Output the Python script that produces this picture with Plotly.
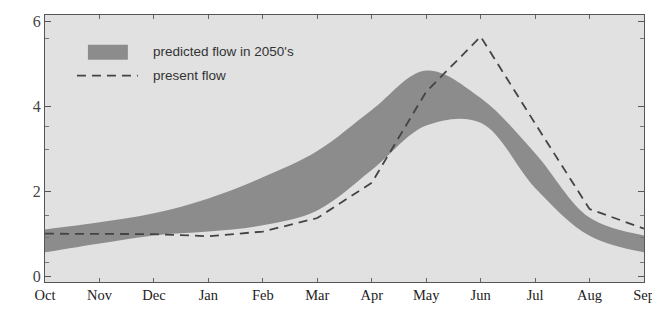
import plotly.graph_objects as go

months = ["Oct", "Nov", "Dec", "Jan", "Feb", "Mar", "Apr", "May", "Jun", "Jul", "Aug", "Sep"]
present_flow = [1.0, 1.0, 0.99, 0.94, 1.05, 1.37, 2.2, 4.35, 5.65, 3.6, 1.58, 1.12]
predicted_upper = [1.1, 1.27, 1.48, 1.83, 2.33, 2.95, 3.92, 4.85, 4.2, 2.9, 1.38, 0.96]
predicted_lower = [0.56, 0.77, 0.96, 1.05, 1.2, 1.55, 2.5, 3.55, 3.62, 2.08, 0.95, 0.56]
y_ticks = [0, 2, 4, 6]
y_minor_ticks = [0.33, 0.9, 1.43, 2.98, 3.54, 5.6]

x = list(range(len(months)))
band_color = "#8c8c8c"
line_color = "#444444"
dash = "9px,6px"

fig = go.Figure()
fig.add_trace(go.Scatter(x=x, y=predicted_lower, mode="lines", line=dict(width=0, shape="spline"),
                         showlegend=False, hoverinfo="skip"))
fig.add_trace(go.Scatter(x=x, y=predicted_upper, mode="lines", line=dict(width=0, shape="spline"),
                         fill="tonexty", fillcolor=band_color, name="predicted flow in 2050's"))
fig.add_trace(go.Scatter(x=x, y=present_flow, mode="lines",
                         line=dict(color=line_color, width=1.8, dash=dash),
                         name="present flow"))

# page body has an 8px margin, so the figure is 8px smaller and margins are shifted
OFF = 8
L, R, T, B = 45, 15, 13, 32
W, H = 660 - OFF, 314 - OFF
PW, PH = 660 - L - R, 314 - T - B

serif = "Liberation Serif, Times New Roman, serif"
fig.update_layout(
    width=W, height=H,
    margin=dict(l=L - OFF, r=R, t=T - OFF, b=B),
    paper_bgcolor="white", plot_bgcolor="#e1e1e1",
    showlegend=False,
    xaxis=dict(range=[0, 11], tickvals=x, ticktext=months, ticks="inside", ticklen=4,
               tickcolor="#666", showgrid=False, zeroline=False, showline=True, linecolor="#555",
               linewidth=1, mirror="ticks", tickfont=dict(family=serif, size=14.5, color="#222")),
    yaxis=dict(range=[-0.14, 6.16], tickvals=y_ticks, ticks="inside", ticklen=6,
               tickcolor="#555", showgrid=False, zeroline=False, showline=True, linecolor="#555",
               linewidth=1, mirror="ticks", tickfont=dict(family=serif, size=16, color="#444"),
               minor=dict(tickvals=y_minor_ticks, ticks="inside", ticklen=4, tickcolor="#777")),
)

def px(xp):
    return (xp - L) / PW

def py(yp):
    return (314 - B - yp) / PH

# legend drawn manually to match the swatch sizes
sans = "Liberation Sans, Arial, sans-serif"
fig.add_shape(type="rect", xref="paper", yref="paper",
              x0=px(88), x1=px(128), y0=py(58), y1=py(43),
              fillcolor=band_color, line=dict(width=0))
fig.add_shape(type="line", xref="paper", yref="paper",
              x0=px(77), x1=px(138), y0=py(74), y1=py(74),
              line=dict(color=line_color, width=1.8, dash=dash))
fig.add_annotation(xref="paper", yref="paper", x=px(151), y=py(50),
                   text="predicted flow in 2050's", showarrow=False, xanchor="left", yanchor="middle",
                   font=dict(family=sans, size=13.5, color="#333"))
fig.add_annotation(xref="paper", yref="paper", x=px(151), y=py(74),
                   text="present flow", showarrow=False, xanchor="left", yanchor="middle",
                   font=dict(family=sans, size=13.5, color="#333"))

fig.write_html("out.html")
